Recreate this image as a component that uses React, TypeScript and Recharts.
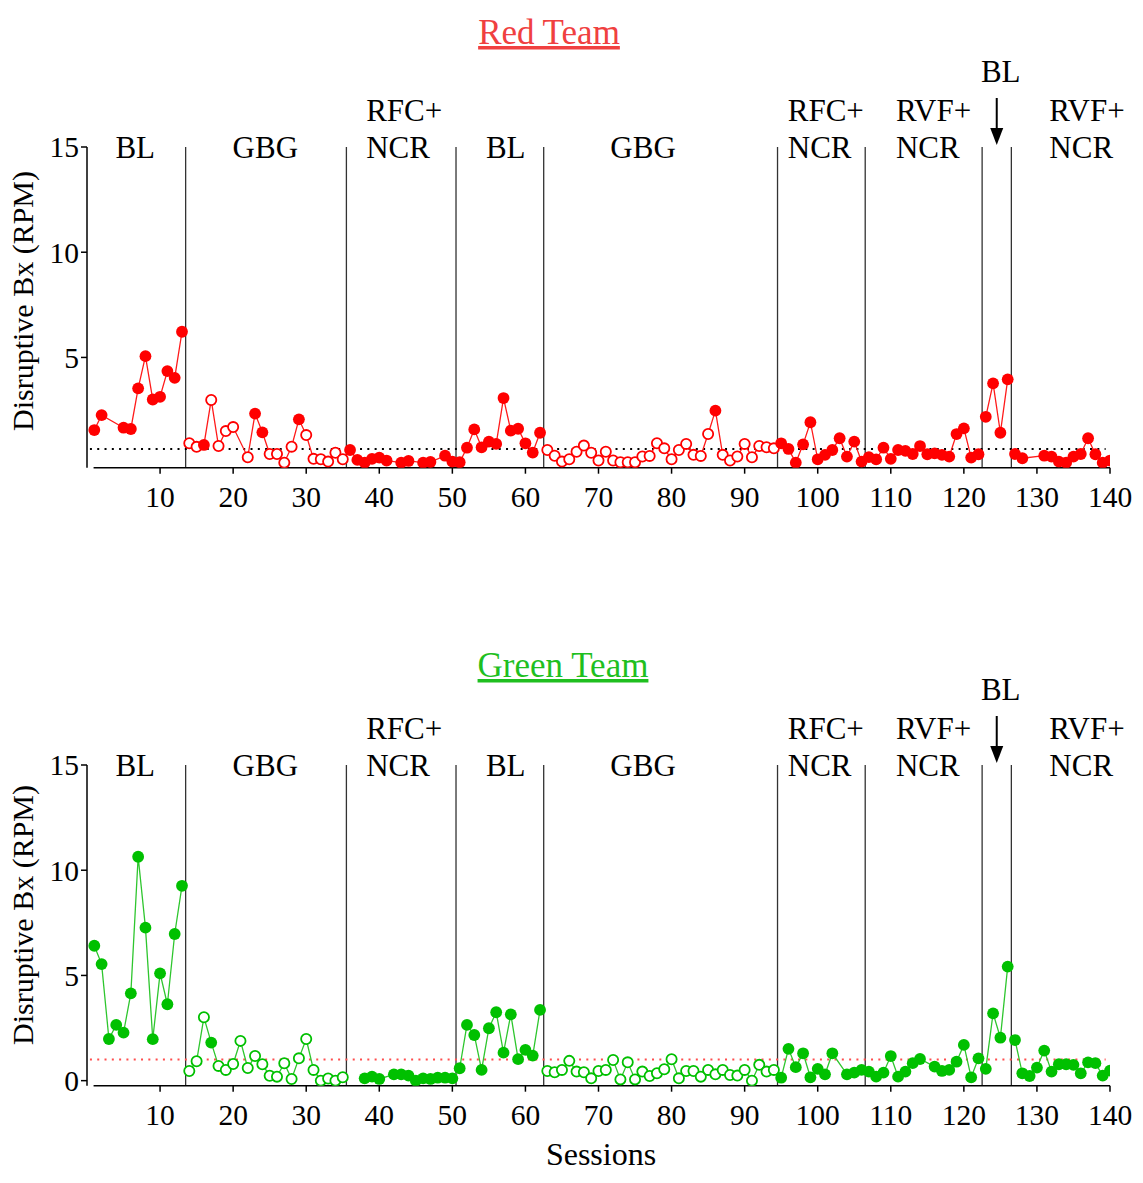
import React from 'react';
import { ComposedChart, Line, XAxis, YAxis, ReferenceLine, ReferenceDot } from 'recharts';

const SERIF = '"Liberation Serif", "Times New Roman", serif';

// Session numbers shown on the x axis
const sessionTicks = [10, 20, 30, 40, 50, 60, 70, 80, 90, 100, 110, 120, 130, 140];
const redYTicks = [5, 10, 15];
const greenYTicks = [0, 5, 10, 15];

// Phase-change lines sit between sessions
const phaseBreaks = [13.5, 35.5, 50.5, 62.5, 94.5, 106.5, 122.5, 126.5];
const phaseKeys = ['bl1', 'gbg1', 'rfc1', 'bl2', 'gbg2', 'rfc2', 'rvf1', 'bl3', 'rvf2'];

type PhaseLabel = { at: number; lines: string[]; anchor: 'middle' | 'start'; arrow?: boolean };
const phaseLabels: PhaseLabel[] = [
  { at: 6.6, lines: ['BL'], anchor: 'middle' },
  { at: 24.4, lines: ['GBG'], anchor: 'middle' },
  { at: 38.2, lines: ['RFC+', 'NCR'], anchor: 'start' },
  { at: 57.3, lines: ['BL'], anchor: 'middle' },
  { at: 76.1, lines: ['GBG'], anchor: 'middle' },
  { at: 95.9, lines: ['RFC+', 'NCR'], anchor: 'start' },
  { at: 110.7, lines: ['RVF+', 'NCR'], anchor: 'start' },
  { at: 124.5, lines: ['BL'], anchor: 'middle', arrow: true },
  { at: 131.7, lines: ['RVF+', 'NCR'], anchor: 'start' },
];

// Disruptive behavior rate per session (null = no session recorded)
const redValues: (number | null)[] = [
  1.55, 2.26, null, null, 1.66, 1.6, 3.53, 5.06, 3.0, 3.13,
  4.35, 4.03, 6.22, 0.92, 0.75, 0.84, 2.98, 0.79, 1.5, 1.69,
  null, 0.26, 2.33, 1.44, 0.41, 0.41, 0.0, 0.76, 2.06, 1.31,
  0.18, 0.16, 0.05, 0.47, 0.16, 0.6, 0.13, 0.0, 0.18, 0.24,
  0.1, null, 0.0, 0.08, null, 0.0, 0.03, null, 0.33, 0.05,
  0.02, 0.71, 1.58, 0.73, 1.0, 0.89, 3.07, 1.52, 1.61, 0.92,
  0.48, 1.42, 0.6, 0.33, 0.05, 0.16, 0.52, 0.81, 0.47, 0.1,
  0.52, 0.1, 0.02, 0.02, 0.02, 0.29, 0.32, 0.92, 0.68, 0.16,
  0.6, 0.89, 0.37, 0.32, 1.36, 2.47, 0.37, 0.1, 0.29, 0.89,
  0.26, 0.79, 0.73, 0.68, 0.92, 0.65, 0.0, 0.87, 1.92, 0.16,
  0.37, 0.6, 1.16, 0.29, 1.0, 0.05, 0.26, 0.16, 0.71, 0.18,
  0.6, 0.56, 0.41, 0.79, 0.4, 0.44, 0.37, 0.29, 1.36, 1.63,
  0.24, 0.4, 2.18, 3.77, 1.42, 3.96, 0.41, 0.21, null, null,
  0.33, 0.29, 0.05, 0.0, 0.29, 0.41, 1.16, 0.4, 0.0, 0.1,
];

const greenValues: (number | null)[] = [
  6.41, 5.54, 1.98, 2.65, 2.28, 4.15, 10.64, 7.27, 1.97, 5.1,
  3.63, 6.97, 9.26, 0.46, 0.92, 3.01, 1.81, 0.7, 0.51, 0.79,
  1.89, 0.6, 1.17, 0.78, 0.23, 0.19, 0.83, 0.08, 1.06, 1.98,
  0.51, 0.0, 0.1, 0.0, 0.16, null, null, 0.11, 0.19, 0.08,
  null, 0.3, 0.3, 0.24, 0.0, 0.11, 0.08, 0.14, 0.14, 0.11,
  0.59, 2.65, 2.17, 0.51, 2.49, 3.25, 1.33, 3.15, 1.02, 1.46,
  1.19, 3.36, 0.46, 0.4, 0.51, 0.94, 0.43, 0.4, 0.11, 0.46,
  0.51, 0.98, 0.06, 0.87, 0.06, 0.43, 0.22, 0.35, 0.54, 1.02,
  0.11, 0.46, 0.46, 0.19, 0.51, 0.3, 0.51, 0.27, 0.24, 0.51,
  0.0, 0.75, 0.43, 0.51, 0.14, 1.51, 0.64, 1.3, 0.16, 0.56,
  0.3, 1.3, null, 0.3, 0.38, 0.51, 0.43, 0.19, 0.38, 1.17,
  0.19, 0.43, 0.83, 1.03, null, 0.67, 0.46, 0.51, 0.9, 1.7,
  0.16, 1.06, 0.56, 3.2, 2.04, 5.42, 1.93, 0.35, 0.22, 0.62,
  1.43, 0.43, 0.78, 0.78, 0.75, 0.35, 0.87, 0.83, 0.24, 0.48,
];

const range = (a: number, b: number) => Array.from({ length: b - a + 1 }, (_, i) => a + i);

// Sessions drawn with hollow markers
const redHollow = [
  ...range(14, 35).filter((s) => ![16, 23, 24, 29].includes(s)),
  ...range(63, 94).filter((s) => s !== 86),
];
const greenHollow = [...range(14, 35).filter((s) => s !== 17), ...range(63, 94)];

// Criterion levels (dotted lines)
const redCriterion = 0.65;
const greenCriterion = 1.0;

const Y_MIN = -0.24;

function buildRows(values: (number | null)[]) {
  return values.map((v, i) => {
    const session = i + 1;
    const row: Record<string, number | null> = { session };
    const phase = phaseBreaks.filter((b) => b < session).length;
    phaseKeys.forEach((k, j) => {
      row[k] = j === phase ? v : null;
    });
    return row;
  });
}

const makeDot = (color: string, hollow: number[], dataKey: string) => (props: any) => {
  const { cx, cy, payload, index } = props;
  if (cx == null || cy == null || payload == null || payload[dataKey] == null) {
    return <g key={`e-${dataKey}-${index}`} />;
  }
  const open = hollow.includes(payload.session);
  return open ? (
    <circle key={`d-${dataKey}-${index}`} cx={cx} cy={cy} r={5.1} fill="#fff" stroke={color} strokeWidth={1.8} />
  ) : (
    <circle key={`d-${dataKey}-${index}`} cx={cx} cy={cy} r={5.9} fill={color} stroke="none" />
  );
};

const PhaseText = (label: PhaseLabel) => (props: any) => {
  const { cx, cy } = props;
  if (cx == null || cy == null) return <g />;
  const textStyle = { fontFamily: SERIF, fontSize: 31, fill: '#000' };
  if (label.arrow) {
    return (
      <g>
        <text x={cx + 4} y={cy - 65} textAnchor="middle" style={textStyle}>
          {label.lines[0]}
        </text>
        <line x1={cx} y1={cy - 49} x2={cx} y2={cy - 17} stroke="#000" strokeWidth={2} />
        <path d={`M ${cx - 6.5} ${cy - 19} L ${cx + 6.5} ${cy - 19} L ${cx} ${cy - 2} Z`} fill="#000" />
      </g>
    );
  }
  const n = label.lines.length;
  return (
    <g>
      {label.lines.map((t, i) => (
        <text
          key={t + i}
          x={cx}
          y={cy + 10.5 - (n - 1 - i) * 37}
          textAnchor={label.anchor}
          style={textStyle}
        >
          {t}
        </text>
      ))}
    </g>
  );
};

type TeamProps = {
  values: (number | null)[];
  hollow: number[];
  color: string;
  lineColor: string;
  criterion: number;
  criterionColor: string;
  yTicks: number[];
};

function TeamChart({ values, hollow, color, lineColor, criterion, criterionColor, yTicks }: TeamProps) {
  const rows = buildRows(values);
  const tickFont = { fontSize: 29.5, fill: '#000', fontFamily: SERIF };
  return (
    <ComposedChart
      width={1143}
      height={560}
      data={rows}
      margin={{ top: 147, right: 33, bottom: 52.3, left: 27 }}
    >
      <XAxis
        dataKey="session"
        type="number"
        domain={[0, 140]}
        ticks={sessionTicks}
        interval={0}
        allowDataOverflow
        axisLine={false}
        tickLine={{ stroke: '#000', strokeWidth: 1.5 }}
        tickSize={6}
        tickMargin={12}
        tick={tickFont}
        height={40}
      />
      <YAxis
        type="number"
        domain={[Y_MIN, 15]}
        ticks={yTicks}
        interval={0}
        allowDataOverflow
        width={60}
        axisLine={{ stroke: '#000', strokeWidth: 1.5 }}
        tickLine={{ stroke: '#000', strokeWidth: 1.5 }}
        tickSize={6}
        tickMargin={2}
        tick={tickFont}
      />
      {phaseBreaks.map((b) => (
        <ReferenceLine key={`pb-${b}`} x={b} stroke="#333" strokeWidth={1.3} ifOverflow="visible" />
      ))}
      <ReferenceLine
        segment={[
          { x: 0.9, y: Y_MIN },
          { x: 140, y: Y_MIN },
        ]}
        stroke="#000"
        strokeWidth={1.5}
        ifOverflow="visible"
      />
      <ReferenceLine
        segment={[
          { x: 0.4, y: criterion },
          { x: 139.4, y: criterion },
        ]}
        stroke={criterionColor}
        strokeWidth={2}
        strokeDasharray="2 5.3"
        ifOverflow="visible"
      />
      {phaseLabels.map((l) => (
        <ReferenceDot
          key={`pl-${l.at}`}
          x={l.at}
          y={15}
          r={0}
          ifOverflow="visible"
          shape={PhaseText(l)}
        />
      ))}
      {phaseKeys.map((k) => (
        <Line
          key={k}
          dataKey={k}
          type="linear"
          connectNulls
          stroke={lineColor}
          strokeWidth={1.3}
          dot={makeDot(color, hollow, k)}
          activeDot={false}
          isAnimationActive={false}
        />
      ))}
    </ComposedChart>
  );
}

export default function App() {
  return (
    <div style={{ position: 'absolute', left: 0, top: 0, width: 1143, height: 1183, background: '#fff' }}>
      <div style={{ position: 'absolute', left: 0, top: 0 }}>
        <TeamChart
          values={redValues}
          hollow={redHollow}
          color="#ff0000"
          lineColor="#ff1a1a"
          criterion={redCriterion}
          criterionColor="#000"
          yTicks={redYTicks}
        />
      </div>
      <div style={{ position: 'absolute', left: 0, top: 618 }}>
        <TeamChart
          values={greenValues}
          hollow={greenHollow}
          color="#00c000"
          lineColor="#2ec62e"
          criterion={greenCriterion}
          criterionColor="#ff4d4d"
          yTicks={greenYTicks}
        />
      </div>
      <svg
        width={1143}
        height={1183}
        style={{ position: 'absolute', left: 0, top: 0, pointerEvents: 'none' }}
      >
        <text x={549} y={44} textAnchor="middle" fill="#f04040" fontFamily={SERIF} fontSize={35} style={{ textDecoration: 'underline' }}>
          Red Team
        </text>
        <text x={563} y={677} textAnchor="middle" fill="#1fbf1f" fontFamily={SERIF} fontSize={35} style={{ textDecoration: 'underline' }}>
          Green Team
        </text>
        <text x={33} y={301} textAnchor="middle" transform="rotate(-90 33 301)" fill="#000" fontFamily={SERIF} fontSize={30}>
          Disruptive Bx (RPM)
        </text>
        <text x={33} y={915} textAnchor="middle" transform="rotate(-90 33 915)" fill="#000" fontFamily={SERIF} fontSize={30}>
          Disruptive Bx (RPM)
        </text>
        <text x={601} y={1165} textAnchor="middle" fill="#000" fontFamily={SERIF} fontSize={32}>
          Sessions
        </text>
      </svg>
    </div>
  );
}
